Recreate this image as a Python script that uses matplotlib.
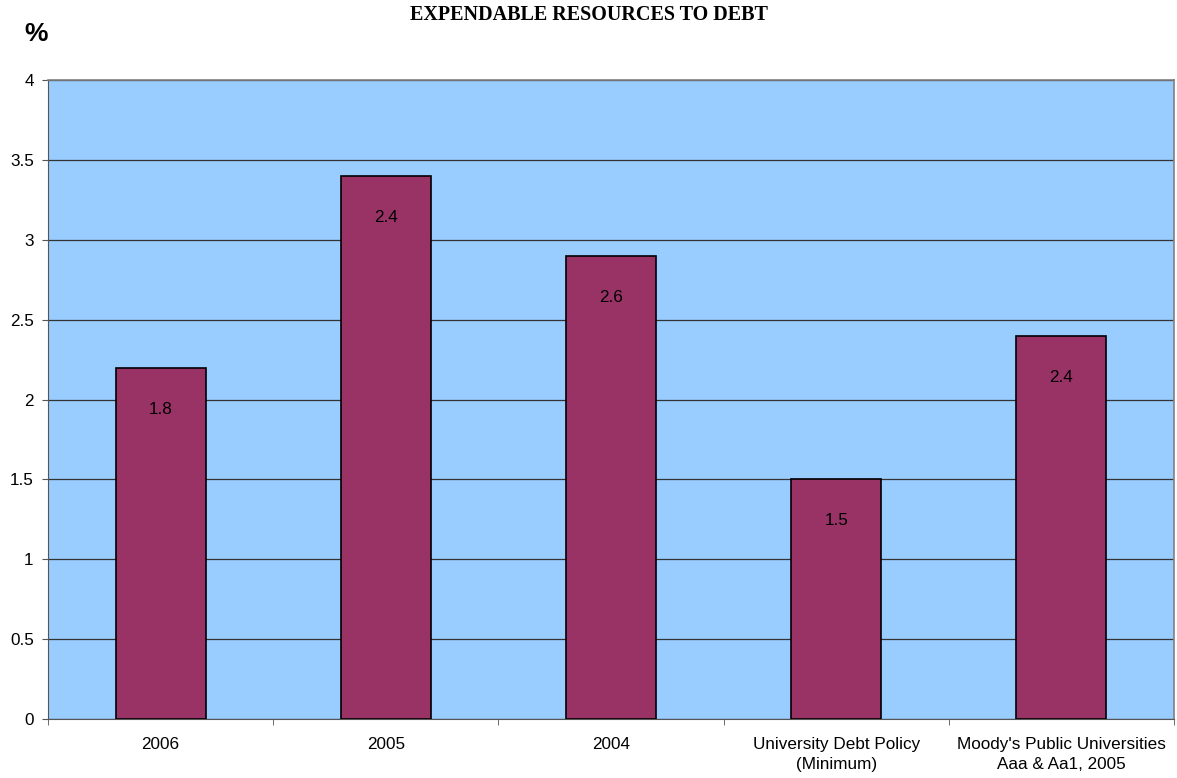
import numpy as np
import matplotlib
matplotlib.use('Agg')
import matplotlib.pyplot as plt
from matplotlib.ticker import FixedLocator

categories = ['2006', '2005', '2004', 'University Debt Policy\n(Minimum)',
              "Moody's Public Universities\nAaa & Aa1, 2005"]
values = [2.2, 3.4, 2.9, 1.5, 2.4]
bar_labels = ['1.8', '2.4', '2.6', '1.5', '2.4']
yticks = [0, 0.5, 1, 1.5, 2, 2.5, 3, 3.5, 4]
ytick_labels = ['0', '0.5', '1', '1.5', '2', '2.5', '3', '3.5', '4']

plt.rcParams['font.family'] = ['Liberation Sans', 'DejaVu Sans']
fs = 12.3

fig = plt.figure(figsize=(11.77, 7.78), dpi=100)
ax = fig.add_axes([48/1177, 59/778, 1126/1177, 639/778])
ax.set_facecolor('#99ccff')

x = np.arange(len(categories))
ax.bar(x, values, width=0.4, color='#993366', edgecolor='black', linewidth=1.2, zorder=3)
for xi, v, lab in zip(x, values, bar_labels):
    ax.text(xi, v - 0.26, lab, ha='center', va='center', fontsize=fs, color='black', zorder=4)

ax.set_xlim(-0.5, len(categories) - 0.5)
ax.set_ylim(0, 4)
ax.set_yticks(yticks)
ax.set_yticklabels(ytick_labels, fontsize=fs)
ax.yaxis.grid(True, color='#333333', linewidth=0.9, zorder=1)
ax.set_xticks(x)
ax.set_xticklabels(categories, fontsize=fs, linespacing=1.4)
ax.xaxis.set_minor_locator(FixedLocator(np.arange(-0.5, len(categories), 1.0)))
ax.tick_params(axis='x', which='major', length=0, pad=13)
ax.tick_params(axis='x', which='minor', length=4.3, color='#555555')
ax.tick_params(axis='y', length=4.3, color='#555555', pad=6)
for side in ['left', 'bottom']:
    ax.spines[side].set_color('#555555')
for side in ['top', 'right']:
    ax.spines[side].set_color('#808080')
    ax.spines[side].set_linewidth(1.2)

fig.text(0.5, 0.993, 'EXPENDABLE RESOURCES TO DEBT', ha='center', va='top',
         fontsize=14.5, fontweight='bold', family='Liberation Serif')
fig.text(24/1177, 0.956, '%', ha='left', va='center', fontsize=19, fontweight='bold')

fig.savefig('out.png', dpi=100)
